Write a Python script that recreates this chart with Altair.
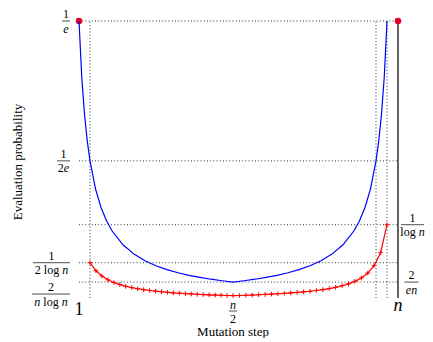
import altair as alt
import pandas as pd

SERIF = "Liberation Serif"
X_MIN, X_MAX = 1, 30
Y_MIN, Y_MAX = 0.0036, 0.36788

# blue curve
blue_x = [1, 1.25, 1.5, 1.75, 2, 2.5, 3, 3.5, 4, 5, 6, 7, 8, 9, 10, 11, 12, 13, 14, 15,
          16, 17, 18, 19, 20, 21, 22, 23, 24, 25, 26, 26.5, 27, 27.5, 28, 28.25, 28.5, 28.75, 29]
blue_y = [0.3679, 0.2943, 0.2453, 0.2102, 0.1839, 0.1472, 0.1226, 0.1051, 0.0920, 0.0736,
          0.0613, 0.0526, 0.0460, 0.0409, 0.0368, 0.0334, 0.0307, 0.0283, 0.0263, 0.0245,
          0.0263, 0.0283, 0.0307, 0.0334, 0.0368, 0.0409, 0.0460, 0.0526, 0.0613, 0.0736,
          0.0920, 0.1051, 0.1226, 0.1472, 0.1839, 0.2102, 0.2453, 0.2943, 0.3679]

# red curve (with + markers)
red_x = [2.00, 2.54, 3.08, 3.63, 4.17, 4.71, 5.25, 5.79, 6.33, 6.88, 7.42, 7.96, 8.50,
         9.04, 9.58, 10.13, 10.67, 11.21, 11.75, 12.29, 12.83, 13.38, 13.92, 14.46, 15.00,
         15.58, 16.17, 16.75, 17.33, 17.92, 18.50, 19.08, 19.67, 20.25, 20.83, 21.42, 22.00,
         22.58, 23.17, 23.75, 24.33, 24.92, 25.50, 26.08, 26.67, 27.25, 27.83, 28.42, 29.00]
red_y = [0.0500, 0.0394, 0.0325, 0.0275, 0.0240, 0.0212, 0.0190, 0.0173, 0.0158, 0.0145,
         0.0135, 0.0126, 0.0118, 0.0111, 0.0104, 0.0099, 0.0094, 0.0089, 0.0085, 0.0081,
         0.0078, 0.0075, 0.0072, 0.0069, 0.0067,
         0.0069, 0.0072, 0.0075, 0.0079, 0.0083, 0.0087, 0.0092, 0.0097, 0.0103, 0.0109,
         0.0117, 0.0125, 0.0135, 0.0146, 0.0160, 0.0176, 0.0197, 0.0222, 0.0255, 0.0300,
         0.0364, 0.0462, 0.0632, 0.1000]

dot_x = [1, 30]
dot_y = [0.36788, 0.36788]

hline_y = [0.36788, 0.18394, 0.1, 0.05, 0.02453]
vline_x = [2, 28, 29]

# tick labels (fractions: numerator parts, denominator parts; (text, italic))
left_vals = [0.36788, 0.18394, 0.05, 0.0088]
left_nums = [[("1", False)], [("1", False)], [("1", False)], [("2", False)]]
left_dens = [[("e", True)], [("2", False), ("e", True)],
             [("2", False), (" ", False), ("log", False), (" ", False), ("n", True)],
             [("n", True), (" ", False), ("log", False), (" ", False), ("n", True)]]
right_vals = [0.1, 0.02453]
right_nums = [[("1", False)], [("2", False)]]
right_dens = [[("log", False), (" ", False), ("n", True)], [("en", True)]]
xtick_vals = [1, 15, 30]

xscale = alt.Scale(domain=[X_MIN, X_MAX], nice=False, zero=False)
yscale = alt.Scale(domain=[Y_MIN, Y_MAX], nice=False, zero=False)

W = {" ": 0.25, "l": 0.278, "o": 0.5, "g": 0.5, "n": 0.5, "e": 0.444}


def tw(s, size):
    return sum(W.get(c, 0.5) for c in s) * size


def xq():
    return alt.X("x:Q", scale=xscale, axis=None)


def yq():
    return alt.Y("y:Q", scale=yscale, axis=None)


def parts_layers(df, xenc, yenc, parts, size, dy):
    out = []
    total = sum(tw(t, size) for t, _ in parts)
    off = -total / 2
    for t, it in parts:
        if t.strip():
            out.append(alt.Chart(df).mark_text(
                text=t, font=SERIF, fontSize=size,
                fontStyle="italic" if it else "normal",
                align="left", baseline="alphabetic", dx=off, dy=dy, color="black"
            ).encode(x=xenc, y=yenc))
        off += tw(t, size)
    return out


def frac_y(val, num, den, cx, bw, size=12):
    df = pd.DataFrame({"y": [val]})
    xe = alt.value(cx)
    out = parts_layers(df, xe, yq(), num, size, -3)
    out += parts_layers(df, xe, yq(), den, size, 11.5)
    out.append(alt.Chart(df).mark_rule(color="black", strokeWidth=0.7).encode(
        x=alt.value(cx - bw / 2), x2=alt.value(cx + bw / 2), y=yq()))
    return out


layers = []

# dotted guide lines
hdf = pd.DataFrame({"y": hline_y, "x": X_MIN, "x2": X_MAX})
layers.append(alt.Chart(hdf).mark_rule(color="#222", strokeWidth=0.9, strokeDash=[1, 2.2]).encode(
    x=xq(), x2="x2:Q", y=yq()))
vdf = pd.DataFrame({"x": vline_x, "y": Y_MIN, "y2": Y_MAX})
layers.append(alt.Chart(vdf).mark_rule(color="#222", strokeWidth=0.9, strokeDash=[1, 2.2]).encode(
    x=xq(), y=yq(), y2="y2:Q"))
# right solid line at n
rdf = pd.DataFrame({"x": [X_MAX], "y": [Y_MIN], "y2": [Y_MAX]})
layers.append(alt.Chart(rdf).mark_rule(color="#111", strokeWidth=1.3).encode(
    x=xq(), y=yq(), y2="y2:Q"))

# dots
ddf = pd.DataFrame({"x": dot_x, "y": dot_y})
layers.append(alt.Chart(ddf).mark_circle(size=42, color="#e4002b", opacity=1).encode(x=xq(), y=yq()))

# blue line with axes
bdf = pd.DataFrame({"x": blue_x, "y": blue_y, "i": range(len(blue_x))})
layers.append(alt.Chart(bdf).mark_line(color="#0000ff", strokeWidth=1.2).encode(
    x=alt.X("x:Q", scale=xscale, axis=alt.Axis(values=[1, 2, 15, 28, 29, 30], labels=False, title="",
                                                grid=False, tickSize=3, tickColor="#333",
                                                domainColor="#333", domainWidth=1.2)),
    y=alt.Y("y:Q", scale=yscale, axis=alt.Axis(labels=False, ticks=False, title="", grid=False,
                                                domainColor="#333", domainWidth=1.2)),
    order="i:Q"))

# red line + markers
rrdf = pd.DataFrame({"x": red_x, "y": red_y, "i": range(len(red_x))})
layers.append(alt.Chart(rrdf).mark_line(color="#ff0000", strokeWidth=1.2).encode(
    x=xq(), y=yq(), order="i:Q"))
layers.append(alt.Chart(rrdf).mark_point(shape="M-1,0L1,0M0,-1L0,1", size=22, filled=False,
                                         color="#ff0000", strokeWidth=1, opacity=1).encode(x=xq(), y=yq()))

# left labels
left_cx = [-13, -15.5, -27.5, -28]
left_bw = [8, 13, 37, 38]
for v, nm, dn, cx, bw in zip(left_vals, left_nums, left_dens, left_cx, left_bw):
    layers += frac_y(v, nm, dn, cx, bw)
# right labels
right_cx = [333.5, 332.5]
right_bw = [23, 14]
for v, nm, dn, cx, bw in zip(right_vals, right_nums, right_dens, right_cx, right_bw):
    layers += frac_y(v, nm, dn, cx, bw)

# x tick labels
layers.append(alt.Chart(pd.DataFrame({"x": [xtick_vals[0]]})).mark_text(
    text="1", font=SERIF, fontSize=18, align="center", baseline="alphabetic", color="black"
).encode(x=xq(), y=alt.value(294)))
layers.append(alt.Chart(pd.DataFrame({"x": [xtick_vals[2]]})).mark_text(
    text="n", font=SERIF, fontSize=18, fontStyle="italic", align="center", baseline="alphabetic",
    color="black").encode(x=xq(), y=alt.value(289.5)))
mdf = pd.DataFrame({"x": [xtick_vals[1]]})
layers.append(alt.Chart(mdf).mark_text(
    text="n", font=SERIF, fontSize=12, fontStyle="italic", align="center", baseline="alphabetic",
    color="black").encode(x=xq(), y=alt.value(288)))
layers.append(alt.Chart(mdf).mark_text(
    text="2", font=SERIF, fontSize=12, align="center", baseline="alphabetic",
    color="black").encode(x=xq(), y=alt.value(301.5)))
layers.append(alt.Chart(mdf.assign(x2=mdf["x"])).mark_rule(color="black", strokeWidth=0.7,
                                                           xOffset=-4, x2Offset=4).encode(
    x=xq(), x2="x2:Q", y=alt.value(290)))

# axis titles
layers.append(alt.Chart(mdf).mark_text(
    text="Mutation step", font=SERIF, fontSize=13, align="center", baseline="alphabetic",
    color="black").encode(x=xq(), y=alt.value(315)))
layers.append(alt.Chart(pd.DataFrame({"a": [0]})).mark_text(
    text="Evaluation probability", font=SERIF, fontSize=13, angle=270, align="center",
    baseline="alphabetic", color="black").encode(x=alt.value(-57), y=alt.value(141)))

chart = alt.layer(*layers).properties(
    width=319, height=277,
    autosize=alt.AutoSizeParams(type="none"),
    padding={"left": 71, "top": 13, "right": 27, "bottom": 40},
).configure_view(stroke="transparent")

chart.save("out.html", embed_options={"renderer": "svg", "actions": False})
